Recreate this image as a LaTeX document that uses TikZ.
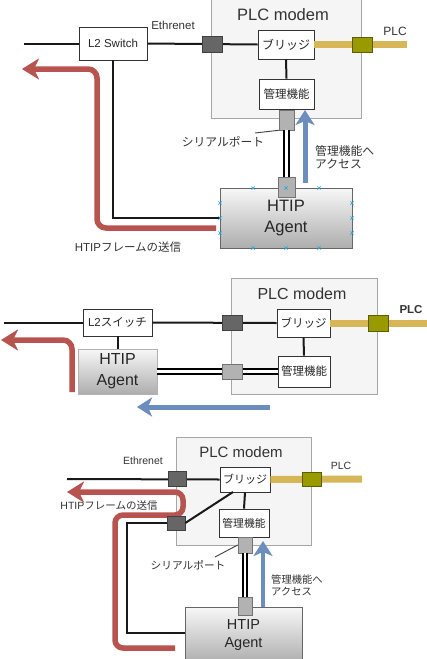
\documentclass[tikz,border=0pt]{standalone}
\usepackage{fontspec}
\setmainfont{Liberation Sans}
\newfontfamily\jp{Noto Sans CJK JP}
\usetikzlibrary{arrows.meta}
\definecolor{redc}{HTML}{B85450}
\definecolor{bluec}{HTML}{6C8EBF}
\definecolor{goldc}{HTML}{D6B656}
\definecolor{olivec}{HTML}{999900}
\definecolor{olived}{HTML}{5C5C00}
\definecolor{handle}{HTML}{29A8E0}
\definecolor{lbl}{HTML}{333333}
\tikzset{
  box/.style={draw=black!80, fill=white, line width=0.9pt, inner sep=0pt, text=black!85},
  modem/.style={draw=black!35, fill=black!4, line width=0.9pt},
  dsq/.style={draw=black!75, fill=black!60, inner sep=0pt, line width=0.6pt},
  gsq/.style={draw=black!55, fill=black!30, inner sep=0pt, line width=0.6pt},
  olv/.style={draw=olived, fill=olivec, inner sep=0pt, line width=0.6pt},
  agent/.style={draw=black!60, top color=black!3, bottom color=black!32, inner sep=0pt, align=center, text=black!85, line width=0.8pt},
  wire/.style={line width=2pt, black!90},
  dbl/.style={draw=black, line width=2pt, double=white, double distance=2.4pt},
  plcw/.style={line width=7pt, goldc},
  redarr/.style={line width=5.5pt, redc, rounded corners=9pt, -{Stealth[length=17pt,width=21pt,inset=5pt]}},
  bluearr/.style={line width=5pt, bluec, -{Stealth[length=15pt,width=19pt,inset=4pt]}},
  lab/.style={text=lbl, inner sep=0pt},
  lead/.style={line width=0.9pt, black!75},
  hd/.style={handle, line width=0.7pt},
}
\newcommand{\hmark}[2]{\draw[hd] (#1-1.6,#2-1.6) -- (#1+1.6,#2+1.6) (#1-1.6,#2+1.6) -- (#1+1.6,#2-1.6);}
\begin{document}
\begin{tikzpicture}[x=1pt,y=-1pt]
\useasboundingbox (0,0) rectangle (427,659);
\clip (0,0) rectangle (427,659);
\fill[white] (0,0) rectangle (427,659);

% ================= Diagram 1 =================
\draw[modem] (211,-5) rectangle (361,118);
\node[lab, text=black!80, font=\fontsize{16.5}{18}\selectfont] (title1) at (283,15) {PLC modem};
\node[box, minimum width=68pt, minimum height=33pt, font=\fontsize{11.5}{13}\selectfont] (sw1) at (113,43.5) {L2 Switch};
\node[box, minimum width=56pt, minimum height=29pt, font=\jp\fontsize{12}{13}\selectfont] (br1) at (286,44.5) {ブリッジ};
\node[box, minimum width=55pt, minimum height=30pt, font=\jp\fontsize{11.5}{13}\selectfont] (mg1) at (286.5,94) {管理機能};
\node[agent, minimum width=132pt, minimum height=60pt, font=\fontsize{16.5}{21}\selectfont] (ag1) at (286,218) {HTIP\\Agent};
\coordinate (l1) at (24,43.5);
\coordinate (p1) at (407,44.5);
\draw[wire] (l1) -- (sw1.west);
\draw[wire] (sw1.east) -- (br1.west);
\draw[wire] (br1.south) -- (mg1.north);
\draw[plcw] (br1.east) -- (p1);
\draw[wire] (sw1.south) |- (ag1.west);
\node[dsq, minimum width=20pt, minimum height=16pt] (dq1) at (212,44) {};
\node[olv, minimum width=20pt, minimum height=15pt] (ol1) at (362,44.5) {};
\node[gsq, minimum width=15pt, minimum height=20pt] (sp1) at (286.5,120) {};
\node[gsq, minimum width=17pt, minimum height=20pt] (sq1) at (286.5,187) {};
\draw[dbl] (sp1.south) -- (sq1.north);
\node[lab, font=\fontsize{11.5}{13}\selectfont] (eth1) at (173,25) {Ethrenet};
\node[lab, font=\fontsize{12}{13}\selectfont] (plc1) at (395,31) {PLC};
\node[lab, font=\jp\fontsize{11.8}{13}\selectfont] (ser1) at (223,142) {シリアルポート};
\coordinate (ls1) at (255,133);
\draw[lead] (ls1) -- (sp1.south west);
\coordinate (rs1) at (216,228);
\coordinate (rc1a) at (97,228);
\coordinate (rc1b) at (97,69);
\coordinate (re1) at (22,69);
\draw[redarr] (rs1) -- (rc1a) -- (rc1b) -- (re1);
\coordinate (bs1) at (305,183);
\coordinate (be1) at (305,110);
\draw[bluearr] (bs1) -- (be1);
\node[lab, anchor=north west, align=left, font=\jp\fontsize{11.8}{13}\selectfont] (acc1) at (315,145) {管理機能へ\\アクセス};
\node[lab, font=\fontsize{11.5}{13}\selectfont] (fr1) at (128,247) {HTIP{\jp フレームの送信}};
\foreach \x in {253,286,319}{\hmark{\x}{188}\hmark{\x}{248}}
\foreach \y in {203,218,233}{\hmark{220}{\y}\hmark{352}{\y}}

% ================= Diagram 2 =================
\draw[modem] (231,278) rectangle (377,394);
\node[lab, text=black!80, font=\fontsize{16}{18}\selectfont] (title2) at (302,294) {PLC modem};
\node[box, minimum width=69pt, minimum height=27pt, font=\fontsize{11.5}{13}\selectfont] (sw2) at (117.5,322.5) {L2{\jp スイッチ}};
\node[box, minimum width=53pt, minimum height=28pt, font=\jp\fontsize{11.5}{13}\selectfont] (br2) at (303.5,323) {ブリッジ};
\node[box, minimum width=52pt, minimum height=31pt, font=\jp\fontsize{11.5}{13}\selectfont] (mg2) at (304,371.5) {管理機能};
\node[agent, draw=black!30, minimum width=79pt, minimum height=45pt, font=\fontsize{16}{21}\selectfont] (ag2) at (117.5,371.5) {HTIP\\Agent};
\coordinate (l2) at (4,322.5);
\coordinate (p2) at (430,323);
\draw[wire] (l2) -- (sw2.west);
\draw[wire] (sw2.east) -- (br2.west);
\draw[wire] (br2.south) -- (mg2.north);
\draw[wire] (sw2.south) -- (ag2.north);
\draw[plcw] (br2.east) -- (p2);
\draw[dbl] (ag2.east) -- (mg2.west);
\node[dsq, minimum width=20pt, minimum height=15pt] (dq2) at (232,323) {};
\node[gsq, minimum width=20pt, minimum height=15pt] (gq2) at (232,371.5) {};
\node[olv, minimum width=20pt, minimum height=16pt] (ol2) at (378,323) {};
\node[lab, font=\bfseries\fontsize{11.5}{13}\selectfont] (plc2) at (411,310) {PLC};
\coordinate (rs2) at (72,392);
\coordinate (rc2) at (72,340);
\coordinate (re2) at (1,340);
\draw[redarr] (rs2) -- (rc2) -- (re2);
\coordinate (bs2) at (270,407);
\coordinate (be2) at (137,407);
\draw[bluearr] (bs2) -- (be2);

% ================= Diagram 3 =================
\draw[modem] (176,437) rectangle (311,545);
\node[lab, text=black!80, font=\fontsize{15}{17}\selectfont] (title3) at (241,452) {PLC modem};
\node[box, minimum width=50pt, minimum height=25pt, font=\jp\fontsize{11}{12}\selectfont] (br3) at (245,479.5) {ブリッジ};
\node[box, minimum width=50pt, minimum height=28pt, font=\jp\fontsize{10.8}{12}\selectfont] (mg3) at (244,523) {管理機能};
\node[agent, minimum width=117pt, minimum height=56pt, font=\fontsize{14.5}{18}\selectfont] (ag3) at (243.5,635) {HTIP\\Agent};
\coordinate (l3) at (67,479);
\coordinate (p3) at (362,479);
\coordinate (rs3) at (175,648);
\coordinate (r3a) at (115,648);
\coordinate (r3b) at (115,515);
\coordinate (r3c) at (183,515);
\coordinate (r3d) at (183,492);
\coordinate (re3) at (67,492);
\draw[redarr, rounded corners=8pt] (rs3) -- (r3a) -- (r3b) -- (r3c) -- (r3d) -- (re3);
\draw[wire] (l3) -- (br3.west);
\draw[plcw] (br3.east) -- (p3);
\draw[wire] (br3.south) -- (mg3.north);
\node[dsq, minimum width=18pt, minimum height=15pt] (dq3a) at (177,478.5) {};
\node[dsq, minimum width=18pt, minimum height=14pt] (dq3b) at (176,523) {};
\coordinate (bd3) at (233,492);
\draw[wire] (bd3) -- (dq3b.east);
\draw[wire] (dq3b.west) -| (127,633) -- (ag3.west |- 0,633);
\node[olv, minimum width=19pt, minimum height=14pt] (ol3) at (311.5,479) {};
\node[gsq, minimum width=14pt, minimum height=16pt] (sp3) at (245,545) {};
\node[gsq, minimum width=14pt, minimum height=18pt] (sq3) at (245,606) {};
\draw[dbl, line width=1.8pt, double distance=2pt] (sp3.south) -- (sq3.north);
\node[lab, font=\fontsize{10.5}{12}\selectfont] (eth3) at (143,461) {Ethrenet};
\node[lab, font=\fontsize{10.5}{12}\selectfont] (plc3) at (341,466) {PLC};
\node[lab, font=\jp\fontsize{10.7}{12}\selectfont] (ser3) at (188,565) {シリアルポート};
\coordinate (ls3) at (215,557);
\draw[lead] (ls3) -- (sp3.west);
\coordinate (bs3) at (263,607);
\coordinate (be3) at (263,541);
\draw[bluearr, line width=4.5pt] (bs3) -- (be3);
\node[lab, anchor=north west, align=left, font=\jp\fontsize{10.3}{12}\selectfont] (acc3) at (271,575) {管理機能へ\\アクセス};
\node[lab, font=\fontsize{10.5}{12}\selectfont] (fr3) at (109,506) {HTIP{\jp フレームの送信}};
\end{tikzpicture}
\end{document}
